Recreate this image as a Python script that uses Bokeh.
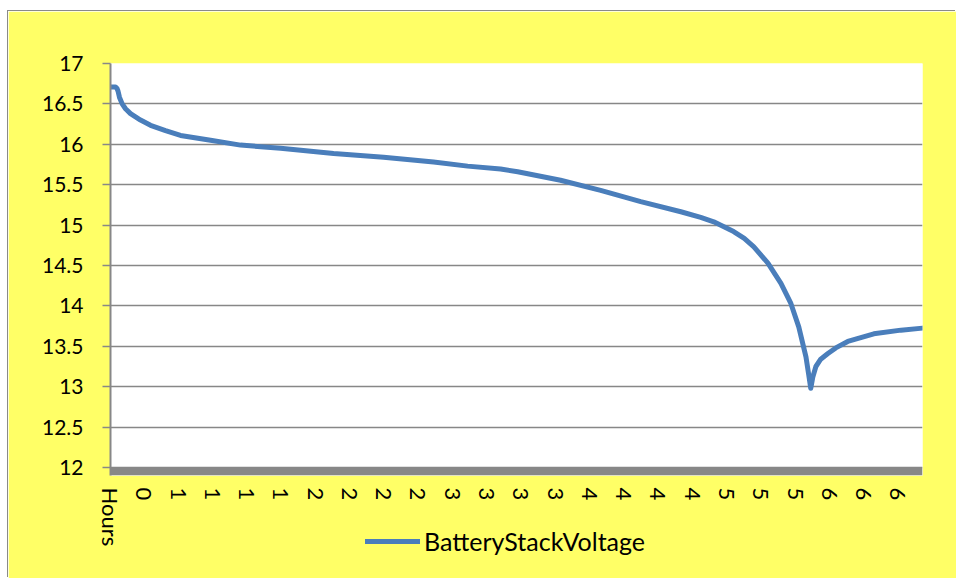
from bokeh.plotting import figure
from bokeh.layouts import column
from bokeh.models import (Range1d, FixedTicker, CustomJSTickFormatter, Legend,
                          LegendItem, BoxAnnotation, ColumnDataSource)
from bokeh.embed import file_html
from bokeh.resources import INLINE

# Category axis labels (as shown on the chart)
hour_labels = ["Hours", "0", "1", "1", "1", "1", "2", "2", "2", "2",
               "3", "3", "3", "3", "4", "4", "4", "4", "5", "5", "5",
               "6", "6", "6"]

# Sample position along the category axis (in label-interval units)
position = [0.0, 0.058, 0.146, 0.19, 0.219, 0.263, 0.341, 0.438, 0.584, 0.876,
            1.168, 1.605, 2.043, 2.919, 3.794, 4.962, 6.509, 7.968, 9.428, 10.42,
            11.38, 11.88, 13.13, 14.30, 15.47, 16.64, 17.22, 17.60, 18.18, 18.49,
            18.77, 19.18, 19.56, 19.85, 20.08, 20.29, 20.37, 20.43, 20.49, 20.58,
            20.72, 20.93, 21.16, 21.51, 22.27, 23.06, 23.69]

# BatteryStackVoltage (V)
voltage = [16.71, 16.71, 16.71, 16.69, 16.66, 16.58, 16.50, 16.44, 16.38, 16.30,
           16.235, 16.17, 16.11, 16.05, 15.99, 15.95, 15.885, 15.84, 15.78, 15.73,
           15.695, 15.66, 15.555, 15.43, 15.29, 15.165, 15.095, 15.04, 14.92, 14.835,
           14.73, 14.53, 14.28, 14.03, 13.74, 13.37, 13.15, 12.98, 13.12, 13.25,
           13.34, 13.41, 13.48, 13.56, 13.655, 13.70, 13.725]

y_ticks = [12, 12.5, 13, 13.5, 14, 14.5, 15, 15.5, 16, 16.5, 17]
series_name = "BatteryStackVoltage"

YELLOW = "#FFFF66"
GRAY = "#878787"
BLUE = "#4A7EBB"
FONT = "Lato"

x_start, x_end = 0.0, 23.69
y_floor, y_top = 11.901, 17.0

src = ColumnDataSource(data=dict(position=position, voltage=voltage))

p = figure(width=948, height=567, margin=(11, 0, 0, 8),
           output_backend="svg", toolbar_location=None,
           x_range=Range1d(x_start, x_end), y_range=Range1d(y_floor, y_top),
           min_border_left=102, min_border_right=34, min_border_top=52,
           min_border_bottom=103, background_fill_color="white",
           border_fill_color=YELLOW, outline_line_color=None)
p.styles = {"box-shadow": "-1px -1px 0 0 #8a8a8a"}

# gridlines
p.xgrid.visible = False
p.ygrid.ticker = FixedTicker(ticks=y_ticks)
p.ygrid.grid_line_color = GRAY
p.ygrid.grid_line_width = 1.6

# thick floor bar under the category axis
p.add_layout(BoxAnnotation(top=min(y_ticks), fill_color=GRAY, fill_alpha=1.0,
                           line_alpha=0))

line_style = dict(line_color=BLUE, line_width=5, line_join="round", line_cap="round")
r = p.line("position", "voltage", source=src, **line_style)

# y axis
yax = p.yaxis[0]
yax.ticker = FixedTicker(ticks=y_ticks)
yax.formatter = CustomJSTickFormatter(code="return String(tick);")
yax.axis_line_color = GRAY
yax.axis_line_width = 2
yax.major_tick_line_color = GRAY
yax.major_tick_line_width = 1.6
yax.major_tick_out = 8
yax.major_tick_in = 0
yax.minor_tick_line_color = None
yax.major_label_standoff = 19
yax.major_label_text_font = FONT
yax.major_label_text_font_size = "21px"
yax.major_label_text_color = "black"

# x axis (category labels)
xax = p.xaxis[0]
xax.ticker = FixedTicker(ticks=list(range(len(hour_labels))))
xax.major_label_overrides = {i: lab for i, lab in enumerate(hour_labels)}
xax.axis_line_color = None
xax.major_tick_line_color = None
xax.minor_tick_line_color = None
xax.major_tick_out = 0
xax.major_tick_in = 0
xax.major_label_orientation = "vertical"
xax.major_label_standoff = 12
xax.major_label_text_font = FONT
xax.major_label_text_font_size = "22px"
xax.major_label_text_color = "black"

# legend, drawn in a transparent full-width strip overlapping the chart bottom
lg = figure(width=956, height=30, margin=(-52, 0, 0, 0),
            output_backend="svg", toolbar_location=None,
            x_range=Range1d(0, 1), y_range=Range1d(0, 1),
            x_axis_location=None, y_axis_location=None,
            min_border=0, min_border_left=0, min_border_right=0,
            min_border_top=0, min_border_bottom=0, outline_line_color=None,
            background_fill_alpha=0, border_fill_alpha=0)
lg.xgrid.visible = False
lg.ygrid.visible = False
r2 = lg.line(x=[0.0], y=[-1.0], **line_style)
legend = Legend(items=[LegendItem(label=series_name, renderers=[r2])],
                location=(263, 0), orientation="horizontal",
                padding=0, margin=0, spacing=0, label_standoff=4,
                glyph_width=55, glyph_height=30, label_height=30,
                background_fill_alpha=0, border_line_alpha=0,
                label_text_font=FONT, label_text_font_size="25px",
                label_text_color="black")
lg.add_layout(legend)

layout = column(p, lg)
open("out.html", "w").write(file_html(layout, INLINE))
